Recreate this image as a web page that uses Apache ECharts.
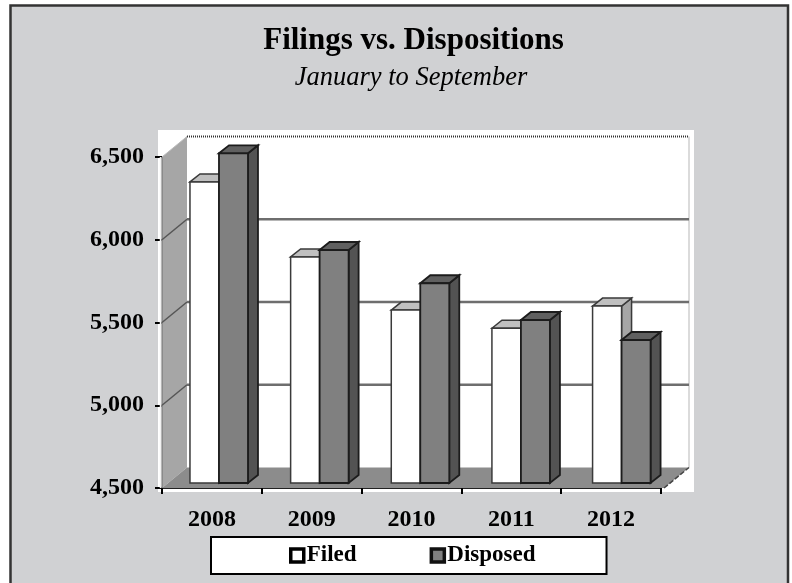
<!DOCTYPE html>
<html><head><meta charset="utf-8">
<style>html,body{margin:0;padding:0;background:#fff}#c{width:792px;height:583px}</style>
<script src="https://cdn.jsdelivr.net/npm/echarts@6/dist/echarts.min.js"></script>
</head><body><div id="c"></div>
<script>
const categories = ['2008','2009','2010','2011','2012'];
const filed = [6319,5866,5545,5435,5569];
const disposed = [6492,5908,5707,5485,5364];
const valueTicks = [6500,6000,5500,5000,4500];
const titleText = 'Filings vs. Dispositions';
const subtitleText = 'January to September';

const FONT = '"Liberation Serif", serif';
const MIN = 4500, MAX = 6500;
const ROOM_DX = 25, ROOM_DY = -20.5, OVER = 3;
const BAR_W = 29, BAR_DX = 10, BAR_DY = -8;
const chart = echarts.init(document.getElementById('c'));

function poly(points, fill, stroke, w) {
  return {type:'polygon', shape:{points}, style:{fill, stroke, lineWidth:w, lineJoin:'miter'}};
}
function line(x1,y1,x2,y2,stroke,w,dash) {
  return {type:'line', shape:{x1,y1,x2,y2}, style:{stroke, lineWidth:w, lineDash:dash||null}};
}
function renderRoom(params, api) {
  const v = api.value(0), cs = params.coordSys;
  const y = api.coord([0, v])[1], x0 = cs.x, x1 = cs.x + cs.width + OVER;
  const bx0 = x0 + ROOM_DX, bx1 = x1 + ROOM_DX, by = y + ROOM_DY;
  const ch = [];
  if (v === MAX) {
    const yb = api.coord([0, MIN])[1];
    ch.push(poly([[x0,y],[bx0,by],[bx0,yb+ROOM_DY],[x0,yb]], '#a6a6a6', null, 0));
    ch.push(line(x0,y,x0,yb,'#808080',1.5));
    ch.push(line(x0-1.5,y,x0-1.5,yb,'#f2f2f2',1.5));
    ch.push(line(x0,y,bx0,by,'#bbbbbb',1));
    ch.push(line(bx0,by,bx1,by,'#333333',2,[1,1]));
    ch.push(line(bx1,by,bx1,yb+ROOM_DY,'#cfcfcf',1.5));
  } else if (v === MIN) {
    ch.push(poly([[x0,y],[bx0,by],[bx1,by],[x1,y]], '#8c8c8c', null, 0));
    ch.push(line(x1,y,bx1,by,'#444444',1.5,[5,2]));
  } else {
    ch.push(line(x0,y,bx0,by,'#555555',1.5));
    ch.push(line(bx0,by,bx1,by,'#6e6e6e',2.5));
  }
  return {type:'group', children:ch};
}
function barRenderer(side, front, top, right, stroke, w) {
  return function (params, api) {
    const c = api.coord([api.value(0), api.value(1)]);
    const b = api.coord([api.value(0), MIN]);
    const x0 = side < 0 ? c[0] - BAR_W : c[0], x1 = x0 + BAR_W, y = c[1], yb = b[1];
    return {type:'group', children:[
      poly([[x1,y],[x1+BAR_DX,y+BAR_DY],[x1+BAR_DX,yb+BAR_DY],[x1,yb]], right, stroke, w),
      poly([[x0,y],[x0+BAR_DX,y+BAR_DY],[x1+BAR_DX,y+BAR_DY],[x1,y]], top, stroke, w),
      poly([[x0,y],[x1,y],[x1,yb],[x0,yb]], front, stroke, w)
    ]};
  };
}
chart.setOption({
  animation:false,
  backgroundColor:'#ffffff',
  textStyle:{fontFamily:FONT},
  title:[
    {text:titleText,left:408.5,top:20,textAlign:'center',textStyle:{fontFamily:FONT,fontSize:31,fontWeight:'bold',color:'#000'}},
    {text:subtitleText,left:406,top:60,textAlign:'center',textStyle:{fontFamily:FONT,fontSize:26.5,fontStyle:'italic',fontWeight:'normal',color:'#000'}}
  ],
  graphic:[
    {type:'rect',z:-2,shape:{x:10.5,y:5.5,width:777.5,height:590},style:{fill:'#d0d1d3',stroke:'#333',lineWidth:2.5}},
    {type:'rect',z:-1,shape:{x:158,y:130,width:536,height:362},style:{fill:'#fff'}}
  ],
  legend:{
    left:211, top:537, orient:'horizontal',
    backgroundColor:'#fff', borderColor:'#000', borderWidth:2,
    padding:[7,71,7,78], itemGap:73, itemWidth:13, itemHeight:13,
    textStyle:{fontFamily:FONT,fontSize:23,fontWeight:'bold',color:'#000',padding:[3,0,0,-2]},
    data:[
      {name:'Filed',icon:'rect',itemStyle:{color:'#fff',borderColor:'#000',borderWidth:3.5}},
      {name:'Disposed',icon:'rect',itemStyle:{color:'#808080',borderColor:'#111',borderWidth:3.5}}
    ]
  },
  grid:[
    {left:162,width:499,top:157,height:331},
    {left:168.65,width:503.25,top:152,height:331}
  ],
  xAxis:[
    {type:'category',gridIndex:0,data:categories,boundaryGap:true,
     axisLine:{show:true,lineStyle:{color:'#222',width:2,type:[1,1]}},
     axisTick:{show:true,length:6,lineStyle:{color:'#000',width:2}},
     axisLabel:{color:'#000',fontFamily:FONT,fontSize:24,fontWeight:'bold',margin:20,interval:0},
     splitLine:{show:false}},
    {type:'category',gridIndex:1,data:categories,show:false}
  ],
  yAxis:[
    {type:'value',gridIndex:0,min:MIN,max:MAX,interval:500,
     axisLine:{show:false},
     axisTick:{show:true,length:7,lineStyle:{color:'#000',width:2}},
     axisLabel:{color:'#000',fontFamily:FONT,fontSize:24,fontWeight:'bold',margin:18,
       formatter:v=>v.toLocaleString('en-US')},
     splitLine:{show:false}},
    {type:'value',gridIndex:1,min:MIN,max:MAX,show:false,splitLine:{show:false}}
  ],
  series:[
    {type:'custom',name:'room',silent:true,xAxisIndex:0,yAxisIndex:0,clip:false,z:1,
     encode:{y:0},data:valueTicks.map(v=>[v]),renderItem:renderRoom},
    {type:'custom',name:'Filed',silent:true,xAxisIndex:1,yAxisIndex:1,clip:false,z:3,
     encode:{x:0,y:1},data:categories.map((c,i)=>[i,filed[i]]),
     itemStyle:{color:'#fff'},
     renderItem:barRenderer(-1,'#ffffff','#c0c0c0','#a6a6a6','#3a3a3a',1.5)},
    {type:'custom',name:'Disposed',silent:true,xAxisIndex:1,yAxisIndex:1,clip:false,z:4,
     encode:{x:0,y:1},data:categories.map((c,i)=>[i,disposed[i]]),
     itemStyle:{color:'#808080'},
     renderItem:barRenderer(1,'#808080','#606060','#535353','#1c1c1c',1.8)}
  ]
});
</script></body></html>
